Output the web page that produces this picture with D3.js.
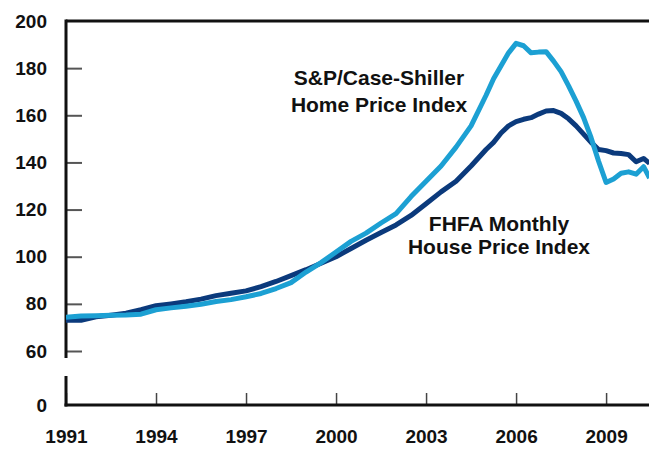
<!DOCTYPE html>
<html>
<head>
<meta charset="utf-8">
<script src="https://cdn.jsdelivr.net/npm/d3@7"></script>
<style>
  body { margin: 0; background: #fff; }
  svg text { font-family: "Liberation Sans", Arial, sans-serif; font-weight: bold; fill: #111; }
</style>
</head>
<body>
<svg width="649" height="451"></svg>
<script>
  // DATA (index values, 2000 = 100)
  var years = [1991, 1991.5, 1992, 1992.5, 1993, 1993.5, 1994, 1994.5, 1995, 1995.5,
    1996, 1996.5, 1997, 1997.5, 1998, 1998.5, 1999, 1999.5, 2000, 2000.5,
    2001, 2001.5, 2002, 2002.5, 2003, 2003.5, 2004, 2004.5, 2005, 2005.25,
    2005.5, 2005.75, 2006, 2006.25, 2006.5, 2006.75, 2007, 2007.25, 2007.5, 2007.75,
    2008, 2008.25, 2008.5, 2008.75, 2009, 2009.25, 2009.5, 2009.75, 2010, 2010.25, 2010.45];

  var fhfa = [73.0, 73.0, 74.5, 75.2, 76.0, 77.5, 79.2, 80.0, 80.9, 82.0,
    83.5, 84.5, 85.5, 87.3, 89.5, 92.0, 94.5, 97.2, 100.0, 103.5,
    107.0, 110.3, 113.5, 117.5, 122.5, 127.5, 132.0, 138.5, 145.5, 148.5,
    152.5, 155.5, 157.3, 158.3, 159.0, 160.5, 161.8, 162.0, 160.8, 158.5,
    155.5, 152.0, 148.5, 145.5, 145.0, 144.0, 143.8, 143.3, 140.3, 141.7, 139.6];

  var caseShiller = [74.3, 74.8, 75.0, 75.2, 75.3, 75.6, 77.5, 78.3, 79.0, 79.8,
    81.0, 81.8, 83.0, 84.4, 86.5, 89.0, 93.5, 97.5, 102.0, 106.5,
    110.0, 114.3, 118.3, 125.5, 132.0, 138.5, 146.5, 155.5, 168.5, 175.5,
    181.0, 186.5, 190.5, 189.5, 186.5, 186.8, 187.0, 183.0, 178.5, 172.5,
    166.0, 159.0, 150.5, 140.5, 131.5, 133.0, 135.4, 136.0, 135.0, 138.2, 133.4];

  var yTicks = [60, 80, 100, 120, 140, 160, 180, 200];
  var xTicks = [1991, 1994, 1997, 2000, 2003, 2006, 2009];

  // SETUP
  var svg = d3.select("svg");
  var x = d3.scaleLinear().domain([1991, 2010.43]).range([66, 649]);
  var y = d3.scaleLinear().domain([60, 200]).range([351, 21]);
  var baseY = 405;

  // y axis (upper part)
  var yAxis = svg.append("g")
    .attr("transform", "translate(66,0)")
    .call(d3.axisLeft(y).tickValues(yTicks).tickSizeInner(-16).tickSizeOuter(0).tickPadding(19));
  yAxis.select(".domain").remove();
  yAxis.selectAll(".tick line").attr("stroke", "#555").attr("stroke-width", 2)
    .filter(function (d) { return d === 200; }).remove();
  yAxis.selectAll(".tick text").style("font-size", "19px").attr("fill", "#111");

  // x axis
  var xAxis = svg.append("g")
    .attr("transform", "translate(0," + baseY + ")")
    .call(d3.axisBottom(x).tickValues(xTicks).tickSizeInner(-12).tickSizeOuter(0)
      .tickPadding(25).tickFormat(d3.format("d")));
  xAxis.select(".domain").remove();
  xAxis.selectAll(".tick line").attr("stroke", "#444").attr("stroke-width", 1.5);
  xAxis.selectAll(".tick text").style("font-size", "19px").attr("fill", "#111");

  // zero label below break
  svg.append("text")
    .attr("x", 47).attr("y", baseY).attr("dy", "0.35em")
    .attr("text-anchor", "end").style("font-size", "19px")
    .text("0");

  // frame lines: top, axis with break, baseline
  svg.append("line").attr("x1", 66).attr("x2", 649).attr("y1", y(200)).attr("y2", y(200))
    .attr("stroke", "#111").attr("stroke-width", 3);
  svg.append("line").attr("x1", 66).attr("x2", 66).attr("y1", y(200) - 1.5).attr("y2", 358)
    .attr("stroke", "#111").attr("stroke-width", 3);
  svg.append("line").attr("x1", 66).attr("x2", 66).attr("y1", 376).attr("y2", baseY + 1.5)
    .attr("stroke", "#111").attr("stroke-width", 3);
  svg.append("line").attr("x1", 64.5).attr("x2", 649).attr("y1", baseY).attr("y2", baseY)
    .attr("stroke", "#111").attr("stroke-width", 3);

  // lines
  var line = d3.line()
    .x(function (d) { return x(d[0]); })
    .y(function (d) { return y(d[1]); });

  svg.append("clipPath").attr("id", "plot")
    .append("rect").attr("x", 66).attr("y", 23).attr("width", 583).attr("height", 360);

  svg.append("path")
    .datum(years.map(function (d, i) { return [d, fhfa[i]]; }))
    .attr("clip-path", "url(#plot)")
    .attr("fill", "none")
    .attr("stroke", "#0b3a7c")
    .attr("stroke-width", 5)
    .attr("stroke-linejoin", "round")
    .attr("d", line);

  svg.append("path")
    .datum(years.map(function (d, i) { return [d, caseShiller[i]]; }))
    .attr("clip-path", "url(#plot)")
    .attr("fill", "none")
    .attr("stroke", "#1ca0d3")
    .attr("stroke-width", 5)
    .attr("stroke-linejoin", "round")
    .attr("d", line);

  // labels
  var labels = [
    { lines: ["S&P/Case-Shiller", "Home Price Index"], x: 379, y: 85, gap: 27 },
    { lines: ["FHFA Monthly", "House Price Index"], x: 499, y: 231, gap: 23 }
  ];
  labels.forEach(function (l) {
    var t = svg.append("text").attr("text-anchor", "middle").style("font-size", "21px");
    l.lines.forEach(function (s, i) {
      t.append("tspan").attr("x", l.x).attr("y", l.y + i * l.gap).text(s);
    });
  });
</script>
</body>
</html>
